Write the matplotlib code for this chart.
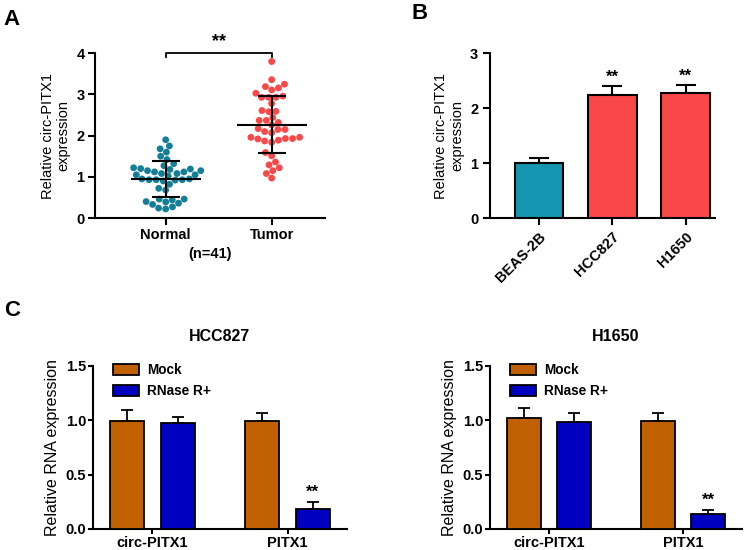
import numpy as np
import pandas as pd
import matplotlib
matplotlib.use("Agg")
import matplotlib.pyplot as plt
import seaborn as sns

plt.rcParams['font.family'] = ['Liberation Sans', 'DejaVu Sans']
plt.rcParams['font.weight'] = 'bold'

# ---- panel A data ----
normal_vals = [1.90, 1.75, 1.68, 1.60, 1.50, 1.42, 1.32, 1.27,
               1.22, 1.19, 1.15, 1.12, 1.08, 1.05, 1.02, 1.05, 1.08, 1.12, 1.15, 1.18, 1.20,
               0.95, 0.93, 0.92, 0.90, 0.93, 0.95, 0.93,
               0.82, 0.72, 0.68,
               0.46, 0.46, 0.40, 0.36, 0.27, 0.22, 0.24, 0.33, 0.39, 0.44]
tumor_vals = [3.80, 3.36, 3.25, 3.11, 3.16, 3.19, 3.03, 2.96, 2.93, 2.93, 2.93,
              2.78, 2.58, 2.61, 2.59, 2.37, 2.37, 2.44, 2.26, 2.32,
              2.15, 2.10, 2.15, 2.17, 2.07, 1.96, 1.93, 1.92, 1.87, 1.84, 1.89, 1.93, 1.96,
              1.51, 1.59, 1.29, 1.36, 1.15, 1.22, 1.08, 0.97]
groups_a = ["Normal", "Tumor"]
means_a = [0.95, 2.27]
sds_a = [0.44, 0.69]

# ---- panel B data ----
cells_b = ["BEAS-2B", "HCC827", "H1650"]
vals_b = [1.00, 2.23, 2.28]
errs_b = [0.10, 0.17, 0.13]

# ---- panel C data ----
genes_c = ["circ-PITX1", "PITX1"]
hcc_mock = [0.99, 0.995]
hcc_mock_err = [0.10, 0.07]
hcc_rnase = [0.975, 0.18]
hcc_rnase_err = [0.055, 0.065]
h16_mock = [1.02, 0.99]
h16_mock_err = [0.09, 0.08]
h16_rnase = [0.98, 0.135]
h16_rnase_err = [0.085, 0.04]

teal_a = "#137f97"
red_a = "#fa4848"
teal_b = "#1596b0"
mock_col = "#c06000"
rnase_col = "#0000c0"


def style_axes(ax, length=5, pad=3.5):
    for s in ["top", "right"]:
        ax.spines[s].set_visible(False)
    for s in ["left", "bottom"]:
        ax.spines[s].set_linewidth(1.5)
    ax.tick_params(direction="out", width=1.5, length=length, pad=pad, labelsize=10.5)
    for lab in ax.get_yticklabels() + ax.get_xticklabels():
        lab.set_fontweight("bold")


fig = plt.figure(figsize=(7.45, 5.5), dpi=100)

# ---------------- Panel A ----------------
axA = fig.add_axes([0.1275, 0.6036, 0.3087, 0.2995])
df = pd.DataFrame({"group": ["Normal"] * len(normal_vals) + ["Tumor"] * len(tumor_vals),
                   "value": normal_vals + tumor_vals})
sns.swarmplot(data=df, x="group", y="value", hue="group", order=groups_a,
              palette={"Normal": teal_a, "Tumor": red_a}, size=4.9,
              legend=False, ax=axA, zorder=2)
for i, (m, s) in enumerate(zip(means_a, sds_a)):
    axA.hlines(m, i - 0.33, i + 0.33, color="black", lw=1.5, zorder=4)
    axA.errorbar(i, m, yerr=s, color="black", lw=1.5, capsize=10,
                 capthick=1.5, zorder=4)
axA.set_xlim(-0.667, 1.503)
axA.set_ylim(0, 4)
axA.set_yticks([0, 1, 2, 3, 4])
axA.set_xlabel("(n=41)", fontsize=10.5, fontweight="bold", labelpad=3)
axA.set_ylabel("Relative circ-PITX1\nexpression", fontsize=10.5, fontweight="normal")
style_axes(axA, pad=2.5)
# significance bracket
axA.plot([0, 0, 1, 1], [3.92, 4.0, 4.0, 3.92], color="black", lw=1.3, clip_on=False)
axA.text(0.5, 4.08, "**", ha="center", va="bottom", fontsize=13, fontweight="bold")

# ---------------- Panel B ----------------
axB = fig.add_axes([0.6577, 0.6036, 0.302, 0.300])
xb = np.arange(len(cells_b))
axB.bar(xb, vals_b, width=0.66, color=[teal_b, red_a, red_a],
        edgecolor="black", linewidth=1.5, zorder=3)
axB.errorbar(xb, vals_b, yerr=[np.zeros(len(errs_b)), errs_b], fmt="none",
             ecolor="black", elinewidth=1.5, capsize=7, capthick=1.5, zorder=2)
for i in [1, 2]:
    axB.text(xb[i], vals_b[i] + errs_b[i] + 0.03, "**", ha="center", va="bottom",
             fontsize=12, fontweight="bold")
axB.set_xlim(-0.67, 2.4)
axB.set_ylim(0, 3)
axB.set_yticks([0, 1, 2, 3])
axB.set_xticks(xb)
axB.set_xticklabels(cells_b, rotation=45, ha="right", rotation_mode="anchor")
axB.set_ylabel("Relative circ-PITX1\nexpression", fontsize=10.5, fontweight="normal")
style_axes(axB)


# ---------------- Panel C ----------------
def rnase_panel(ax, title, mock, mock_err, rnase, rnase_err):
    x = np.arange(len(genes_c))
    off = 0.187
    w = 0.254
    ax.bar(x - off, mock, width=w, color=mock_col, edgecolor="black",
           linewidth=1.3, zorder=3, label="Mock")
    ax.bar(x + off, rnase, width=w, color=rnase_col, edgecolor="black",
           linewidth=1.3, zorder=3, label="RNase R+")
    ax.errorbar(x - off, mock, yerr=[np.zeros(len(mock)), mock_err], fmt="none",
                ecolor="black", elinewidth=1.3, capsize=4.5, capthick=1.3, zorder=2)
    ax.errorbar(x + off, rnase, yerr=[np.zeros(len(rnase)), rnase_err], fmt="none",
                ecolor="black", elinewidth=1.3, capsize=4.5, capthick=1.3, zorder=2)
    ax.text(x[1] + off, rnase[1] + rnase_err[1] + 0.02, "**", ha="center",
            va="bottom", fontsize=12, fontweight="bold")
    ax.set_xlim(-0.44, 1.44)
    ax.set_ylim(0, 1.5)
    ax.set_yticks([0.0, 0.5, 1.0, 1.5])
    ax.set_yticklabels(["0.0", "0.5", "1.0", "1.5"])
    ax.set_xticks(x)
    ax.set_xticklabels(genes_c)
    ax.set_ylabel("Relative RNA expression", fontsize=11.5, fontweight="normal")
    ax.set_title(title, fontsize=11.5, fontweight="bold", pad=18)
    ax.legend(loc="upper left", bbox_to_anchor=(0.03, 1.09), frameon=False,
              handlelength=1.9, handleheight=0.9,
              handletextpad=0.6, labelspacing=0.5,
              prop={"weight": "bold", "size": 9.8})
    style_axes(ax, length=3.5, pad=1.5)


axC1 = fig.add_axes([0.1248, 0.0382, 0.341, 0.2967])
rnase_panel(axC1, "HCC827", hcc_mock, hcc_mock_err, hcc_rnase, hcc_rnase_err)
axC2 = fig.add_axes([0.6577, 0.0382, 0.3383, 0.2967])
rnase_panel(axC2, "H1650", h16_mock, h16_mock_err, h16_rnase, h16_rnase_err)

# panel letters
fig.text(0.005, 0.965, "A", fontsize=16, fontweight="bold", va="center")
fig.text(0.553, 0.975, "B", fontsize=16, fontweight="bold", va="center")
fig.text(0.005, 0.435, "C", fontsize=16, fontweight="bold", va="center")

fig.savefig("out.png", dpi=100)
